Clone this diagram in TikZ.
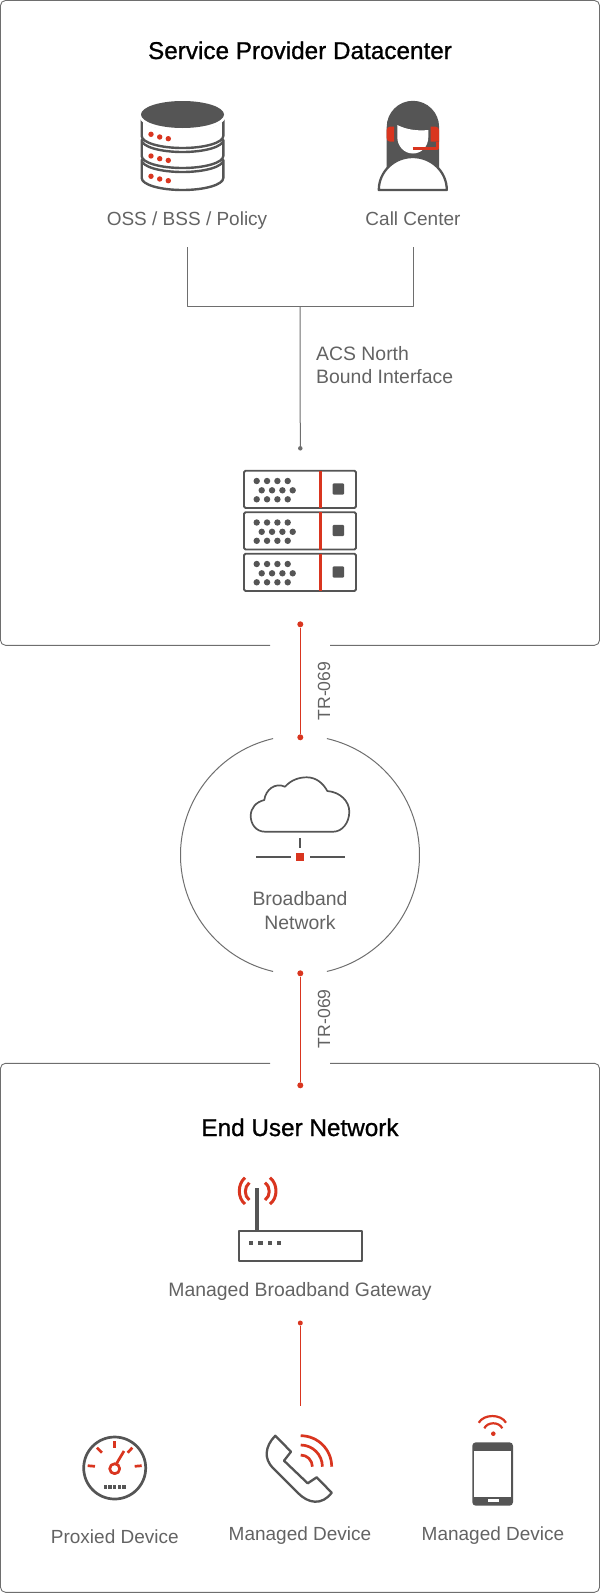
\documentclass[tikz,border=0pt]{standalone}
\usepackage{fontspec}
\setmainfont{Liberation Sans}
\newfontfamily\headfont[FakeBold=0.9]{Liberation Sans}
\usepackage{xcolor}
\usetikzlibrary{positioning}
\definecolor{acsred}{HTML}{D9351F}
\definecolor{acsdark}{HTML}{555555}
\definecolor{acstext}{HTML}{636363}
\definecolor{acsedge}{HTML}{6E6E6E}

\begin{document}
\begin{tikzpicture}[x=1pt, y=-1pt, line join=round,
  every node/.style={inner sep=0pt, align=center, text=acstext, font=\fontsize{19}{23.5}\selectfont},
  heading/.style={text=black, font=\headfont\fontsize{24.3}{29}\selectfont},
  caption/.style={anchor=base},
  widecaption/.style={font=\fontsize{19.4}{23.5}\selectfont},
  boxline/.style={draw=acsedge, line width=0.9pt, rounded corners=5pt},
  greyline/.style={draw=acsedge, line width=1pt},
  redline/.style={draw=acsred, line width=1.1pt},
  greydot/.style={circle, fill=acsedge, minimum size=4.5pt},
  reddot/.style={circle, fill=acsred, minimum size=6pt},
  iconline/.style={draw=acsdark, line width=2.3pt},
  iconred/.style={draw=acsred, line width=2.7pt}]
  \useasboundingbox (0,0) rectangle (600,1593);

  % outer frames
  \draw[boxline] (270,645.3) -- (0.5,645.3) -- (0.5,0.5) -- (599.5,0.5) -- (599.5,645.3) -- (330,645.3);
  \draw[boxline] (270,1063.3) -- (0.5,1063.3) -- (0.5,1592.3) -- (599.5,1592.3) -- (599.5,1063.3) -- (330,1063.3);
  \draw[greyline] (300,855) ++(-77:119.5) arc[start angle=-77, end angle=77, radius=119.5];
  \draw[greyline] (300,855) ++(103:119.5) arc[start angle=103, end angle=257, radius=119.5];

  \node[heading, caption] (datacenter) at (300,59) {Service Provider Datacenter};
  \node[heading, caption] (enduser) at (300,1136) {End User Network};

  % database icon
  \foreach \tiertop/\tierbot in {172/178, 152/156, 129/136} {
    \draw[iconline, fill=white, line width=2.4pt] (141.7,\tiertop-12) -- (141.7,\tierbot) arc[start angle=180, end angle=0, x radius=40.8, y radius=12] -- (223.3,\tiertop-12) arc[start angle=0, end angle=180, x radius=40.8, y radius=12] -- cycle;
  }
  \fill[white] (182.5,116) ellipse[x radius=43.5, y radius=15];
  \fill[acsdark] (182.5,114.5) ellipse[x radius=41.5, y radius=13.5];
  \foreach \tiery in {134.3, 156, 176.3} {
    \fill[acsred] (151,\tiery) circle[radius=2.7];
    \fill[acsred] (159.7,\tiery+2.7) circle[radius=2.7];
    \fill[acsred] (168.3,\tiery+4.4) circle[radius=2.7];
  }

  % call center icon
  \fill[acsdark] (386.7,172) -- (386.7,127) arc[start angle=180, end angle=360, radius=26.2] -- (439.1,172) -- cycle;
  \draw[iconline, fill=white] (378.8,190) arc[start angle=180, end angle=360, x radius=34, y radius=33] -- cycle;
  \fill[white] (397.3,125) .. controls (407,130) and (418,131) .. (428.3,130) -- (428.3,137) .. controls (428.3,147) and (421,153.5) .. (413,153.5) .. controls (404,153.5) and (397.3,146) .. (397.3,137) -- cycle;
  \fill[acsred] (394,126.7) -- (394,141.7) -- (390,141.7) .. controls (388,141.7) and (386.7,140) .. (386.7,138) -- (386.7,130) .. controls (386.7,128) and (388,126.7) .. (390,126.7) -- cycle;
  \fill[acsred] (430.7,126.7) -- (430.7,141.7) -- (439,141.7) -- (439,130) .. controls (439,128) and (437.5,126.7) .. (435.5,126.7) -- cycle;
  \draw[iconred] (412.7,148.3) -- (437.7,148.3) -- (437.7,141.7);

  \node[caption] (osslabel) at (187,225.7) {OSS / BSS / Policy};
  \node[caption] (calllabel) at (413,225.7) {Call Center};

  \coordinate (ossdrop) at (187,247);
  \coordinate (calldrop) at (413,247);
  \coordinate (busjoin) at (300,306);
  \node[greydot] (acsdot) at (300.3,448.3) {};
  \draw[greyline] (ossdrop) |- (busjoin);
  \draw[greyline] (calldrop) |- (busjoin);
  \draw[greyline] (busjoin) -- (acsdot);
  \node[anchor=west, align=left, widecaption] (northbound) at (316,365) {ACS North\\[0pt]Bound Interface};

  % acs server stack
  \foreach \rack in {0, 41.5, 83} {
    \draw[draw=acsdark, line width=1.9pt, rounded corners=1.5pt, fill=white] (244,470.7+\rack) rectangle (356,508+\rack);
    \draw[redline, line width=2.4pt] (320.3,470.7+\rack) -- (320.3,508+\rack);
    \fill[acsdark, rounded corners=1pt] (332.7,483.3+\rack) rectangle (344,494.6+\rack);
    \foreach \col in {0, 10.35, 20.7, 31} {
      \fill[acsdark] (256.7+\col,481+\rack) circle[radius=3.2];
      \fill[acsdark] (261.7+\col,490.3+\rack) circle[radius=3.2];
      \fill[acsdark] (256.7+\col,499.3+\rack) circle[radius=3.2];
    }
  }

  % links
  \node[reddot] (acslink) at (300.3,624.3) {};
  \node[reddot] (cloudtop) at (300.3,737.3) {};
  \node[reddot] (cloudbot) at (300.3,973.3) {};
  \node[reddot] (usertop) at (300.3,1085.3) {};
  \draw[redline] (acslink) -- (cloudtop);
  \draw[redline] (cloudbot) -- (usertop);
  \node[rotate=90, font=\fontsize{17.6}{21}\selectfont] (trupper) at (324,691) {TR-069};
  \node[rotate=90, font=\fontsize{17.6}{21}\selectfont] (trlower) at (324,1018.7) {TR-069};

  % cloud icon
  \draw[iconline, line width=1.7pt] (265,831.7) .. controls (256,831.7) and (250.7,824) .. (250.7,816) .. controls (250.7,808) and (256,802) .. (264.3,800) .. controls (265.5,790) and (275,782) .. (285,786.7) .. controls (291,780) and (299,777.3) .. (306.7,777.3) .. controls (316,777.3) and (323,783) .. (327.3,791) .. controls (340,792) and (349.3,801) .. (349.3,811.7) .. controls (349.3,823) and (342,831.7) .. (333.3,831.7) -- cycle;
  \draw[iconline, line width=1.7pt] (300,838.3) -- (300,847.7);
  \draw[iconline, line width=1.7pt] (256,856.7) -- (290.7,856.7);
  \draw[iconline, line width=1.7pt] (310,856.7) -- (345,856.7);
  \fill[acsred] (296,853) rectangle (304,860.8);
  \node[widecaption] (broadband) at (300,910.5) {Broadband\\[0pt]Network};

  % gateway icon
  \draw[iconline, line width=4pt] (257.3,1188.3) -- (257.3,1231);
  \draw[iconline, line width=1.8pt] (238.7,1231) rectangle (361.7,1261);
  \foreach \led in {251, 260.3, 269.7, 279} {
    \fill[acsdark] (\led-2.2,1241) rectangle (\led+2.2,1245.3);
  }
  \draw[iconred, line width=3pt] (249.3,1182.7) .. controls (244,1187) and (244,1196) .. (249.3,1200);
  \draw[iconred, line width=3pt] (245,1177.7) .. controls (237.4,1184) and (237.4,1198) .. (245,1204);
  \draw[iconred, line width=3pt] (265,1182.7) .. controls (270.7,1187) and (270.7,1196) .. (265,1200);
  \draw[iconred, line width=3pt] (270,1177.7) .. controls (278,1184) and (278,1198) .. (270,1204);
  \node[caption, widecaption] (gateway) at (300,1296) {Managed Broadband Gateway};

  \node[reddot, minimum size=5pt] (gatewaydot) at (300.3,1323) {};
  \coordinate (devicejoin) at (300.3,1405.7);
  \draw[redline, line width=0.9pt] (gatewaydot) -- (devicejoin);

  % gauge icon
  \draw[iconline, line width=2.7pt] (114.7,1468) circle[radius=31];
  \draw[iconred] (114.7,1441.3) -- (114.7,1448.3);
  \draw[iconred] (97,1447.7) -- (102,1452.7);
  \draw[iconred] (132.3,1447.7) -- (127.7,1452.7);
  \draw[iconred] (87.7,1465.7) -- (95,1466.3);
  \draw[iconred] (141.7,1465.7) -- (134.7,1466.3);
  \draw[iconred] (114.7,1468.7) circle[radius=5];
  \draw[iconred] (116.7,1463.3) -- (124,1451);
  \foreach \led in {105.3, 110, 114.7, 119.3, 124} {
    \fill[acsdark] (\led-1.7,1485) rectangle (\led+1.7,1489.3);
  }
  \node[caption] (proxied) at (114.8,1543.5) {Proxied Device};

  % handset icon
  \draw[iconline, line width=2.3pt] (275.3,1435.7) -- (291,1451.7) -- (284,1460.7) -- (307.7,1483.3) -- (316.7,1477.3) -- (331.7,1492.7) .. controls (327,1499) and (321,1502) .. (315,1501.7) .. controls (309,1501.5) and (303,1498) .. (298.3,1493.3) -- (273.3,1468.3) .. controls (268,1463) and (266.5,1458) .. (266.7,1453) .. controls (267,1447) and (270,1441) .. (275.3,1435.7) -- cycle;
  \foreach \wave in {11.7, 21.7, 31} {
    \draw[iconred] (300.7,1466.7-\wave) arc[start angle=270, end angle=360, radius=\wave];
  }
  \node[caption] (handset) at (300,1540.5) {Managed Device};

  % mobile icon
  \fill[acsdark, rounded corners=3.5pt] (472.3,1442.3) rectangle (513,1505.7);
  \fill[white] (474.3,1450.7) rectangle (511,1496.7);
  \fill[white] (487.7,1499.3) rectangle (499,1502);
  \fill[acsred] (493.3,1433.7) circle[radius=2.3];
  \draw[iconred, line width=2.2pt] (484.3,1428.3) .. controls (487.5,1421.6) and (499,1421.6) .. (502.3,1428.3);
  \draw[iconred, line width=2.2pt] (478.7,1422.7) .. controls (484,1413.8) and (501,1413.8) .. (506,1422.7);
  \node[caption] (mobile) at (493,1540.5) {Managed Device};
\end{tikzpicture}
\end{document}
